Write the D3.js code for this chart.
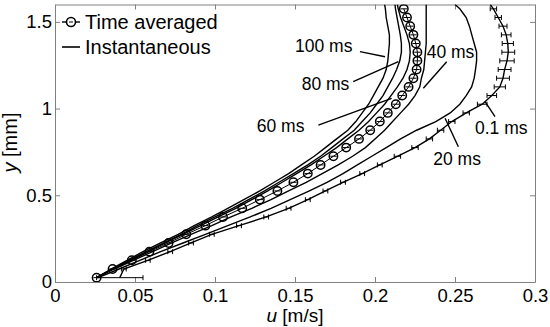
<!DOCTYPE html>
<html>
<head>
<meta charset="utf-8">
<script src="https://d3js.org/d3.v7.min.js"></script>
<style>
body { margin: 0; background: #fff; }
svg { font-family: "Liberation Sans", Arial, Helvetica, sans-serif; }
.frame path, .frame line { stroke: #808080; }
</style>
</head>
<body>
<div id="chart"></div>
<script>
// wall-normal positions [mm]
const yLevels = [0.025, 0.075, 0.125, 0.175, 0.225, 0.275, 0.325, 0.375, 0.425, 0.475,
  0.525, 0.575, 0.625, 0.675, 0.725, 0.775, 0.825, 0.875, 0.925, 0.975,
  1.025, 1.075, 1.125, 1.175, 1.225, 1.275, 1.325, 1.375, 1.425, 1.475, 1.525, 1.575]
const yInst = yLevels.concat([1.6])

// time averaged profile u [m/s]
const uAvg = [0.026, 0.036, 0.048, 0.059, 0.071, 0.082, 0.094, 0.105, 0.117, 0.128,
  0.139, 0.149, 0.158, 0.166, 0.174, 0.182, 0.190, 0.197, 0.203, 0.208,
  0.213, 0.217, 0.221, 0.224, 0.226, 0.2265, 0.2265, 0.2255, 0.224, 0.222, 0.220, 0.218]
const uAvgErr = [0.002, 0.002, 0.002, 0.002, 0.002, 0.002, 0.002, 0.002, 0.002, 0.002,
  0.002, 0.002, 0.002, 0.002, 0.002, 0.002, 0.002, 0.002, 0.002, 0.002,
  0.002, 0.002, 0.002, 0.002, 0.002, 0.002, 0.002, 0.002, 0.002, 0.002, 0.002, 0.002]

// instantaneous profiles
const u01 = [0.0405, 0.043, 0.058, 0.072, 0.085, 0.098, 0.115, 0.132, 0.146, 0.158,
  0.169, 0.180, 0.192, 0.203, 0.214, 0.225, 0.234, 0.241, 0.248, 0.257,
  0.267, 0.273, 0.278, 0.280, 0.281, 0.2825, 0.2833, 0.283, 0.282, 0.280, 0.277, 0.274, 0.272]
const u01Err = [0.0145, 0.0015, 0.0015, 0.0015, 0.0015, 0.0015, 0.0015, 0.0015, 0.0015, 0.0015,
  0.0015, 0.0015, 0.0015, 0.0015, 0.002, 0.002, 0.002, 0.002, 0.002, 0.002,
  0.003, 0.003, 0.0035, 0.004, 0.004, 0.0045, 0.004, 0.0035, 0.003, 0.0025, 0.002, 0.002]
const u20 = [0.027, 0.040, 0.053, 0.066, 0.080, 0.094, 0.108, 0.122, 0.135, 0.147,
  0.159, 0.170, 0.180, 0.189, 0.198, 0.207, 0.216, 0.226, 0.238, 0.247,
  0.253, 0.257, 0.2604, 0.262, 0.2628, 0.2635, 0.2635, 0.262, 0.2605, 0.259, 0.257, 0.253, 0.250]
const u40 = [0.026, 0.037, 0.049, 0.061, 0.073, 0.085, 0.098, 0.110, 0.123, 0.135,
  0.146, 0.157, 0.167, 0.177, 0.186, 0.194, 0.200, 0.206, 0.211, 0.216,
  0.221, 0.225, 0.228, 0.229, 0.2305, 0.231, 0.2315, 0.232, 0.232, 0.232, 0.232, 0.232, 0.232]
const u60 = [0.026, 0.036, 0.047, 0.058, 0.069, 0.080, 0.091, 0.102, 0.113, 0.123,
  0.133, 0.142, 0.151, 0.160, 0.168, 0.176, 0.183, 0.190, 0.196, 0.201,
  0.206, 0.210, 0.214, 0.2175, 0.220, 0.2215, 0.222, 0.2215, 0.220, 0.218, 0.216, 0.2145, 0.214]
const u80 = [0.026, 0.036, 0.046, 0.057, 0.068, 0.079, 0.089, 0.100, 0.111, 0.121,
  0.131, 0.140, 0.149, 0.158, 0.166, 0.173, 0.180, 0.187, 0.192, 0.197,
  0.201, 0.205, 0.208, 0.211, 0.2135, 0.2155, 0.2165, 0.2165, 0.2158, 0.2148, 0.2138, 0.2128, 0.2125]
const u100 = [0.026, 0.035, 0.045, 0.055, 0.066, 0.077, 0.087, 0.098, 0.108, 0.118,
  0.128, 0.137, 0.146, 0.154, 0.162, 0.169, 0.176, 0.183, 0.188, 0.192,
  0.196, 0.199, 0.202, 0.205, 0.207, 0.208, 0.2085, 0.209, 0.209, 0.208, 0.207, 0.2065, 0.206]

const xTicks = [0, 0.05, 0.1, 0.15, 0.2, 0.25, 0.3]
const yTicks = [0, 0.5, 1, 1.5]

// labels with pointer lines, in data units
const notes = [
  {text: '100 ms', u: 0.150, y: 1.329, from: [0.1906, 1.328], to: [0.2063, 1.299]},
  {text: '80 ms', u: 0.1542, y: 1.107, from: [0.1864, 1.155], to: [0.2146, 1.270]},
  {text: '60 ms', u: 0.1261, y: 0.865, from: [0.1646, 0.905], to: [0.2104, 1.059]},
  {text: '40 ms', u: 0.2323, y: 1.292, from: [0.2448, 1.270], to: [0.2302, 1.117]},
  {text: '20 ms', u: 0.2364, y: 0.675, from: [0.2438, 0.944], to: [0.2521, 0.780]},
  {text: '0.1 ms', u: 0.2625, y: 0.853, from: [0.2688, 1.040], to: [0.2750, 0.953]}
]

width = 550
height = 327
margin = {top: 4.5, right: 15, bottom: 45, left: 55}

svg = d3.select('#chart')
  .append('svg')
  .attr('width', width)
  .attr('height', height)

x = d3.scaleLinear().domain([0, 0.3]).range([margin.left, width - margin.right])
y = d3.scaleLinear().domain([0, 1.6]).range([height - margin.bottom, margin.top])

svg.append('clipPath').attr('id', 'plot')
  .append('rect')
  .attr('x', x(0)).attr('y', y(1.6))
  .attr('width', x(0.3) - x(0)).attr('height', y(0) - y(1.6))

// axes box with inward ticks (matlab style)
svg.append('g').attr('class', 'frame')
  .attr('transform', `translate(0,${y(0)})`)
  .call(d3.axisBottom(x).tickValues(xTicks).tickSize(-5).tickSizeOuter(0).tickPadding(7)
    .tickFormat(d => d === 0 ? '0' : String(d)))
svg.append('g').attr('class', 'frame')
  .attr('transform', `translate(${x(0)},0)`)
  .call(d3.axisLeft(y).tickValues(yTicks).tickSize(-5).tickSizeOuter(0).tickPadding(3)
    .tickFormat(d => String(d)))
svg.append('g').attr('class', 'frame')
  .attr('transform', `translate(0,${y(1.6)})`)
  .call(d3.axisTop(x).tickValues(xTicks).tickSize(-5).tickSizeOuter(0).tickFormat(''))
svg.append('g').attr('class', 'frame')
  .attr('transform', `translate(${x(0.3)},0)`)
  .call(d3.axisRight(y).tickValues(yTicks).tickSize(-5).tickSizeOuter(0).tickFormat(''))

svg.selectAll('.frame text')
  .attr('fill', '#000')
  .style('font-size', '18.5px')
  .style('font-family', '"Liberation Sans", Arial, sans-serif')

plot = svg.append('g').attr('clip-path', 'url(#plot)')

line = d3.line().x(d => x(d[0])).y(d => y(d[1]))

const inst = [u100, u80, u60, u40, u20, u01]
inst.forEach(function(us) {
  plot.append('path')
    .datum(us.map((u, i) => [u, yInst[i]]))
    .attr('d', line)
    .attr('fill', 'none')
    .attr('stroke', '#000')
    .attr('stroke-width', 1.4)
})

// error bars on the 0.1 ms profile
eb = plot.append('g').attr('stroke', '#000').attr('stroke-width', 1)
yLevels.forEach(function(yy, i) {
  let u = u01[i], e = u01Err[i]
  eb.append('line').attr('x1', x(u - e)).attr('x2', x(u + e)).attr('y1', y(yy)).attr('y2', y(yy))
  eb.append('line').attr('x1', x(u - e)).attr('x2', x(u - e)).attr('y1', y(yy) - 2.5).attr('y2', y(yy) + 2.5)
  eb.append('line').attr('x1', x(u + e)).attr('x2', x(u + e)).attr('y1', y(yy) - 2.5).attr('y2', y(yy) + 2.5)
})

// time averaged
avg = yLevels.map((yy, i) => [uAvg[i], yy])
plot.append('path')
  .datum(avg)
  .attr('d', line)
  .attr('fill', 'none')
  .attr('stroke', '#000')
  .attr('stroke-width', 1)
ab = plot.append('g').attr('stroke', '#000').attr('stroke-width', 1)
avg.forEach(function(d, i) {
  ab.append('line').attr('x1', x(d[0] - uAvgErr[i])).attr('x2', x(d[0] + uAvgErr[i]))
    .attr('y1', y(d[1])).attr('y2', y(d[1]))
})
plot.selectAll('circle.avg')
  .data(avg)
  .enter().append('circle')
  .attr('class', 'avg')
  .attr('cx', d => x(d[0]))
  .attr('cy', d => y(d[1]))
  .attr('r', 4.2)
  .attr('fill', 'none')
  .attr('stroke', '#000')
  .attr('stroke-width', 1.5)

// annotations
notes.forEach(function(n) {
  svg.append('line')
    .attr('x1', x(n.from[0])).attr('y1', y(n.from[1]))
    .attr('x2', x(n.to[0])).attr('y2', y(n.to[1]))
    .attr('stroke', '#000').attr('stroke-width', 1.4)
  svg.append('text')
    .attr('x', x(n.u)).attr('y', y(n.y))
    .style('font-size', '17.5px')
    .text(n.text)
})

// legend
lg = svg.append('g')
lg.append('line').attr('x1', 62).attr('x2', 80).attr('y1', 22).attr('y2', 22)
  .attr('stroke', '#000').attr('stroke-width', 1.4)
lg.append('circle').attr('cx', 71).attr('cy', 22).attr('r', 4.5)
  .attr('fill', '#fff').attr('stroke', '#000').attr('stroke-width', 1.6)
lg.append('line').attr('x1', 69).attr('x2', 73).attr('y1', 22).attr('y2', 22)
  .attr('stroke', '#000').attr('stroke-width', 1)
lg.append('text').attr('x', 85).attr('y', 28.5).style('font-size', '20px').text('Time averaged')
lg.append('line').attr('x1', 62).attr('x2', 80).attr('y1', 47).attr('y2', 47)
  .attr('stroke', '#000').attr('stroke-width', 1.6)
lg.append('text').attr('x', 85).attr('y', 53.5).style('font-size', '20px').text('Instantaneous')

// axis labels
xl = svg.append('text')
  .attr('x', 295).attr('y', 321.5)
  .attr('text-anchor', 'middle')
  .style('font-size', '19px')
xl.append('tspan').style('font-style', 'italic').text('u')
xl.append('tspan').text(' [m/s]')

yl = svg.append('text')
  .attr('transform', 'translate(17,142.5) rotate(-90)')
  .attr('text-anchor', 'middle')
  .style('font-size', '20px')
yl.append('tspan').style('font-style', 'italic').text('y')
yl.append('tspan').text(' [mm]')
</script>
</body>
</html>
